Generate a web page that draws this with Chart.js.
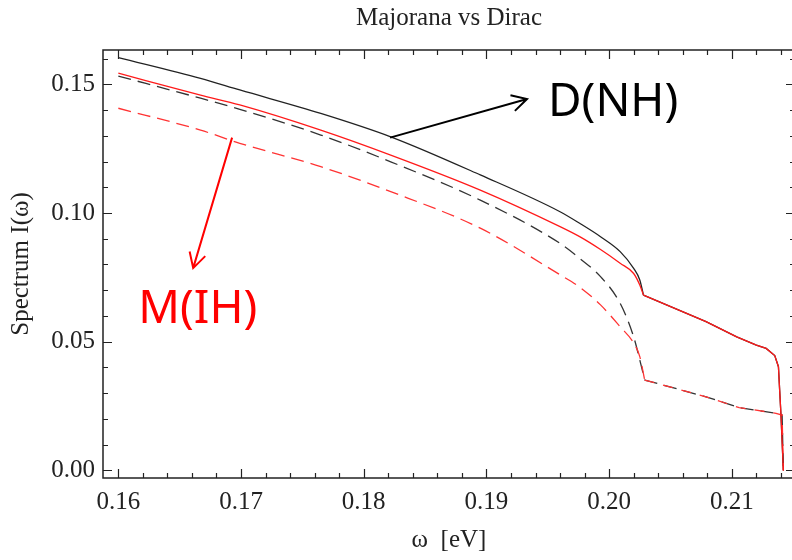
<!DOCTYPE html>
<html>
<head>
<meta charset="utf-8">
<script src="https://cdn.jsdelivr.net/npm/chart.js@4"></script>
<style>
  html, body { margin: 0; padding: 0; background: #fff; overflow: hidden; }
  #wrap { width: 800px; height: 560px; }
</style>
</head>
<body>
<div id="wrap"><canvas id="spectrum" width="800" height="560"></canvas></div>
<script>
// omega [eV] up to the kink near 0.203
const omegaHead  = [0.1600, 0.1667, 0.1699, 0.1765, 0.1822, 0.1895, 0.1960, 0.1976, 0.1993, 0.2009, 0.2020, 0.2025];
const diracNH    = [0.1604, 0.1523, 0.1478, 0.1387, 0.1296, 0.1148, 0.1005, 0.0960, 0.0908, 0.0850, 0.0785, 0.0740];
const majoranaNH = [0.1543, 0.1458, 0.1420, 0.1322, 0.1225, 0.1089, 0.0947, 0.0908, 0.0858, 0.0805, 0.0765, 0.0720];
const diracIH    = [0.1532, 0.1446, 0.1403, 0.1303, 0.1199, 0.1050, 0.0882, 0.0824, 0.0753, 0.0649, 0.0519, 0.0429];
const majoranaIH = [0.1407, 0.1322, 0.1271, 0.1180, 0.1083, 0.0941, 0.0760, 0.0712, 0.0643, 0.0558, 0.0495, 0.0442];

// from the kink on, D and M coincide
const omegaTailNH = [0.2028, 0.2079, 0.2104, 0.2120, 0.2128, 0.2135, 0.2138, 0.2139, 0.2140, 0.2142];
const tailNH      = [0.0681, 0.0578, 0.0519, 0.0487, 0.0474, 0.0446, 0.0403, 0.0312, 0.0222, 0.0000];
const omegaTailIH = [0.2029, 0.2079, 0.2106, 0.2136, 0.2141, 0.2142];
const tailIH      = [0.0351, 0.0286, 0.0244, 0.0222, 0.0215, 0.0000];

const xTicks = [0.16, 0.17, 0.18, 0.19, 0.20, 0.21];
const yTicks = [0.00, 0.05, 0.10, 0.15];

// arrows + labels, in data units
const notes = [
  { text: 'D(NH)', color: '#000000', from: [0.18215, 0.1293], to: [0.19331, 0.1443], at: [0.19502, 0.1376], align: 'left' },
  { text: 'M(IH)', color: '#ff0000', from: [0.16927, 0.1293], to: [0.16610, 0.0786], at: [0.16648, 0.0572], align: 'center' }
];

const pts = (xs, ys) => xs.map((x, i) => ({ x: x, y: ys[i] }));

const serif = '"Liberation Serif", "Times New Roman", serif';

// Mathematica-style frame with inward ticks on all four sides
const frame = {
  id: 'frame',
  afterDatasetsDraw(chart) {
    const { ctx, chartArea: a, scales: { x, y } } = chart;
    ctx.save();
    ctx.strokeStyle = '#222';
    ctx.lineWidth = 1.5;
    ctx.strokeRect(a.left, a.top, a.right - a.left, a.bottom - a.top);
    ctx.lineWidth = 1.2;
    ctx.beginPath();
    for (let i = 0; i <= 27; i++) {
      const v = 0.16 + i * 0.002;
      const px = Math.round(x.getPixelForValue(v)) + 0.5;
      const len = i % 5 === 0 ? 9 : 5;
      ctx.moveTo(px, a.bottom); ctx.lineTo(px, a.bottom - len);
      ctx.moveTo(px, a.top); ctx.lineTo(px, a.top + len);
    }
    for (let j = 0; j <= 16; j++) {
      const v = j * 0.01;
      const py = Math.round(y.getPixelForValue(v)) + 0.5;
      const len = j % 5 === 0 ? 9 : 5;
      ctx.moveTo(a.left, py); ctx.lineTo(a.left + len, py);
      ctx.moveTo(a.right, py); ctx.lineTo(a.right - len, py);
    }
    ctx.stroke();
    ctx.restore();
  }
};

const arrows = {
  id: 'arrows',
  afterDraw(chart) {
    const { ctx, scales: { x, y } } = chart;
    ctx.save();
    notes.forEach(n => {
      const x0 = x.getPixelForValue(n.from[0]), y0 = y.getPixelForValue(n.from[1]);
      const x1 = x.getPixelForValue(n.to[0]), y1 = y.getPixelForValue(n.to[1]);
      const ang = Math.atan2(y1 - y0, x1 - x0);
      ctx.strokeStyle = n.color;
      ctx.lineWidth = 2;
      ctx.beginPath();
      ctx.moveTo(x0, y0); ctx.lineTo(x1, y1);
      ctx.moveTo(x1 - 17 * Math.cos(ang - 0.5), y1 - 17 * Math.sin(ang - 0.5));
      ctx.lineTo(x1, y1);
      ctx.lineTo(x1 - 17 * Math.cos(ang + 0.5), y1 - 17 * Math.sin(ang + 0.5));
      ctx.stroke();
      ctx.fillStyle = n.color;
      ctx.font = '46px "Noto Sans", "Open Sans", sans-serif';
      ctx.textAlign = n.align;
      ctx.textBaseline = 'alphabetic';
      ctx.fillText(n.text, x.getPixelForValue(n.at[0]), y.getPixelForValue(n.at[1]));
    });
    ctx.restore();
  }
};

// smooth curve up to the kink, straight pieces after it
const line = (label, data, color, dash, order, smooth) => ({
  label: label,
  data: data,
  borderColor: color,
  borderWidth: 1.3,
  borderDash: dash,
  pointRadius: 0,
  fill: false,
  cubicInterpolationMode: smooth ? 'monotone' : 'default',
  tension: 0,
  order: order
});

const kinkNH = pts(omegaTailNH.slice(0, 1), tailNH.slice(0, 1));
const kinkIH = pts(omegaTailIH.slice(0, 1), tailIH.slice(0, 1));

new Chart(document.getElementById('spectrum'), {
  type: 'line',
  data: {
    datasets: [
      line('D(NH)', pts(omegaHead, diracNH).concat(kinkNH), '#222222', [], 2, true),
      line('D(IH)', pts(omegaHead, diracIH).concat(kinkIH), '#333333', [13, 7], 2, true),
      line('D(NH) tail', pts(omegaTailNH, tailNH), '#222222', [], 2, false),
      line('D(IH) tail', pts(omegaTailIH, tailIH), '#333333', [13, 7], 2, false),
      line('M(NH)', pts(omegaHead, majoranaNH).concat(kinkNH), '#ff1a1a', [], 1, true),
      line('M(IH)', pts(omegaHead, majoranaIH).concat(kinkIH), '#ff3333', [13, 7], 1, true),
      line('M(NH) tail', pts(omegaTailNH, tailNH), '#ff1a1a', [], 1, false),
      line('M(IH) tail', pts(omegaTailIH, tailIH), '#ff3333', [10, 9], 1, false)
    ]
  },
  options: {
    responsive: false,
    animation: false,
    layout: { padding: { left: 0, right: 5, top: 0, bottom: 0 } },
    plugins: {
      legend: { display: false },
      tooltip: { enabled: false },
      title: {
        display: true,
        text: 'Majorana vs Dirac',
        fullSize: false,
        color: '#222',
        font: { family: serif, size: 25, weight: 'normal' },
        padding: { top: 3, bottom: 17 }
      }
    },
    scales: {
      x: {
        type: 'linear',
        min: 0.15875,
        max: 0.21515,
        afterFit: s => { s.height = 82; },
        afterBuildTicks: s => { s.ticks = xTicks.map(v => ({ value: v })); },
        grid: { display: false, drawTicks: false },
        border: { display: false },
        ticks: {
          color: '#222',
          padding: 9,
          maxRotation: 0,
          font: { family: serif, size: 25 },
          callback: v => v.toFixed(2)
        },
        title: {
          display: true,
          text: 'ω  [eV]',
          color: '#222',
          font: { family: serif, size: 25 },
          padding: { top: 0, bottom: 5 }
        }
      },
      y: {
        type: 'linear',
        min: -0.00295,
        max: 0.16333,
        afterFit: s => { s.width = 103; },
        afterBuildTicks: s => { s.ticks = yTicks.map(v => ({ value: v })); },
        grid: { display: false, drawTicks: false },
        border: { display: false },
        ticks: {
          color: '#222',
          padding: 8,
          font: { family: serif, size: 25 },
          callback: v => v.toFixed(2)
        },
        title: {
          display: true,
          text: 'Spectrum I(ω)',
          color: '#222',
          font: { family: serif, size: 25 },
          padding: { top: 6, bottom: 0 }
        }
      }
    }
  },
  plugins: [frame, arrows]
});
</script>
</body>
</html>
